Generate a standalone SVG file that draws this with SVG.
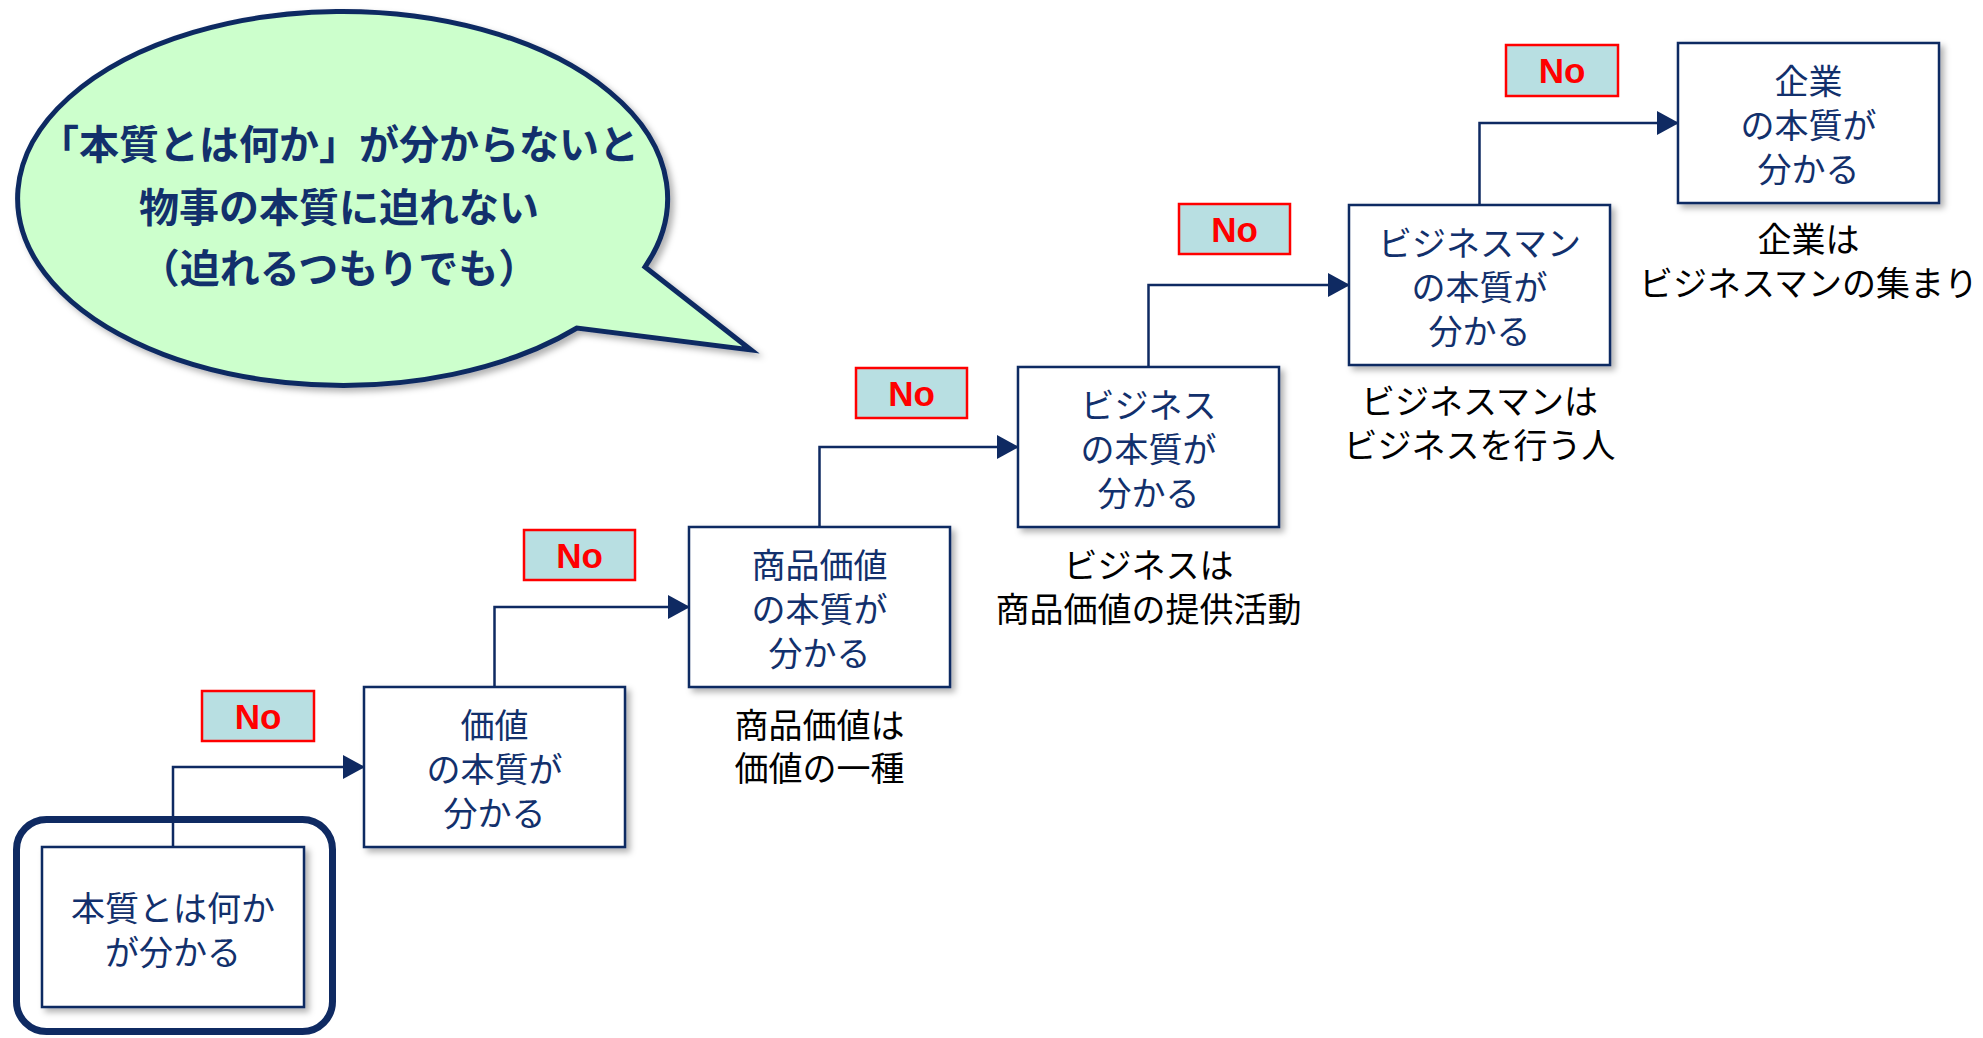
<svg xmlns="http://www.w3.org/2000/svg" width="1983" height="1038" viewBox="0 0 1983 1038">
<style>
.box{fill:#fff;stroke:#0f2a62;stroke-width:2.5}
.bt{font-family:"Noto Sans CJK JP","Noto Sans",sans-serif;font-size:34px;fill:#12306c;text-anchor:middle;dominant-baseline:central}
.cap{font-family:"Noto Sans CJK JP","Noto Sans",sans-serif;font-size:34px;fill:#000;text-anchor:middle;dominant-baseline:central}
.no{fill:#b8dfe2;stroke:#ff0000;stroke-width:2.5}
.nt{font-family:"Liberation Sans",Arial,sans-serif;font-weight:bold;font-size:35px;fill:#ff0000;text-anchor:middle;dominant-baseline:central}
.con{fill:none;stroke:#0f2a62;stroke-width:2.5}
.bub{font-family:"Noto Sans CJK JP","Noto Sans",sans-serif;font-weight:bold;font-size:40px;fill:#12306c;text-anchor:middle;dominant-baseline:central}
</style>
<defs>
<marker id="arr" viewBox="0 0 22 24" refX="21" refY="12" markerWidth="22" markerHeight="24" markerUnits="userSpaceOnUse" orient="auto">
<path d="M0,0 L22,12 L0,24 Z" fill="#0f2a62"/>
</marker>
<filter id="sh" x="-10%" y="-10%" width="130%" height="130%">
<feDropShadow dx="4" dy="4" stdDeviation="3" flood-color="#000" flood-opacity="0.3"/>
</filter>
</defs>
<rect width="1983" height="1038" fill="#fff"/>

<g id="bubble">
<path d="M645,267 A325,187 0 1 0 577,328 L751,350 Z" fill="#ccffcc" stroke="#0f2a62" stroke-width="5" stroke-linejoin="miter" filter="url(#sh)"/>
<text class="bub" x="339" y="142">「本質とは何か」が分からないと</text>
<text class="bub" x="339" y="205">物事の本質に迫れない</text>
<text class="bub" x="339" y="266">（迫れるつもりでも）</text>
</g>

<g id="connectors">
<path class="con" d="M173,847 V767 H364" marker-end="url(#arr)"/>
<path class="con" d="M494.5,687 V607 H689" marker-end="url(#arr)"/>
<path class="con" d="M819.5,527 V447 H1018" marker-end="url(#arr)"/>
<path class="con" d="M1148.5,367 V285 H1349" marker-end="url(#arr)"/>
<path class="con" d="M1479.5,205 V123 H1678" marker-end="url(#arr)"/>
</g>

<g id="highlight">
<rect x="16.5" y="819.5" width="316" height="212" rx="30" fill="none" stroke="#0f2a62" stroke-width="7"/>
</g>

<g id="node1">
<rect class="box" x="42" y="847" width="262" height="160" filter="url(#sh)"/>
<text class="bt" x="173" y="906">本質とは何か</text>
<text class="bt" x="173" y="950">が分かる</text>
</g>

<g id="node2">
<rect class="box" x="364" y="687" width="261" height="160" filter="url(#sh)"/>
<text class="bt" x="494.5" y="723">価値</text>
<text class="bt" x="494.5" y="767">の本質が</text>
<text class="bt" x="494.5" y="811">分かる</text>
</g>

<g id="node3">
<rect class="box" x="689" y="527" width="261" height="160" filter="url(#sh)"/>
<text class="bt" x="819.5" y="563">商品価値</text>
<text class="bt" x="819.5" y="607">の本質が</text>
<text class="bt" x="819.5" y="651">分かる</text>
<text class="cap" x="819.5" y="723">商品価値は</text>
<text class="cap" x="819.5" y="766">価値の一種</text>
</g>

<g id="node4">
<rect class="box" x="1018" y="367" width="261" height="160" filter="url(#sh)"/>
<text class="bt" x="1148.5" y="403">ビジネス</text>
<text class="bt" x="1148.5" y="447">の本質が</text>
<text class="bt" x="1148.5" y="491">分かる</text>
<text class="cap" x="1148.5" y="563">ビジネスは</text>
<text class="cap" x="1148.5" y="607">商品価値の提供活動</text>
</g>

<g id="node5">
<rect class="box" x="1349" y="205" width="261" height="160" filter="url(#sh)"/>
<text class="bt" x="1479.5" y="241">ビジネスマン</text>
<text class="bt" x="1479.5" y="285">の本質が</text>
<text class="bt" x="1479.5" y="329">分かる</text>
<text class="cap" x="1479.5" y="399">ビジネスマンは</text>
<text class="cap" x="1479.5" y="443">ビジネスを行う人</text>
</g>

<g id="node6">
<rect class="box" x="1678" y="43" width="261" height="160" filter="url(#sh)"/>
<text class="bt" x="1808.5" y="79">企業</text>
<text class="bt" x="1808.5" y="123">の本質が</text>
<text class="bt" x="1808.5" y="167">分かる</text>
<text class="cap" x="1808.5" y="237">企業は</text>
<text class="cap" x="1808.5" y="281">ビジネスマンの集まり</text>
</g>

<g id="labels">
<rect class="no" x="202" y="691" width="112" height="50"/>
<text class="nt" x="258" y="716">No</text>
<rect class="no" x="524" y="530" width="111" height="50"/>
<text class="nt" x="579.5" y="555">No</text>
<rect class="no" x="856" y="368" width="111" height="50"/>
<text class="nt" x="911.5" y="393">No</text>
<rect class="no" x="1179" y="204" width="111" height="50"/>
<text class="nt" x="1234.5" y="229">No</text>
<rect class="no" x="1506" y="45" width="112" height="51"/>
<text class="nt" x="1562" y="70.5">No</text>
</g>
</svg>
